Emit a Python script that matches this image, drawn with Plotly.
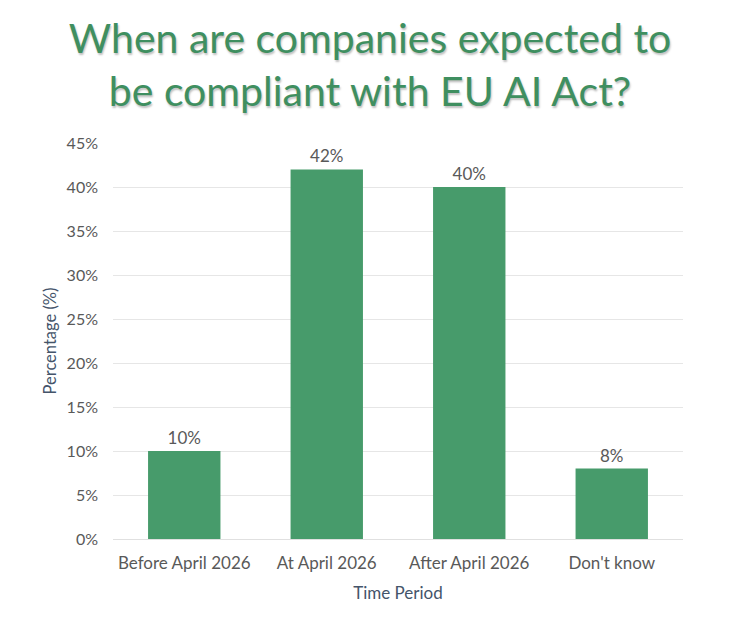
import plotly.graph_objects as go

categories = ["Before April 2026", "At April 2026", "After April 2026", "Don't know"]
percentages = [10, 42, 40, 8]
y_ticks = [0, 5, 10, 15, 20, 25, 30, 35, 40, 45]
y_tick_labels = [f"{v}%" for v in y_ticks]

FONT = "Lato, 'Open Sans', sans-serif"

fig = go.Figure(
    go.Bar(
        x=categories,
        y=percentages,
        text=[f"{v}%" for v in percentages],
        textposition="outside",
        cliponaxis=False,
        textfont=dict(family=FONT, size=17, color="#595959"),
        marker=dict(color="#479b6b", line=dict(width=0)),
        width=0.508,
    )
)

fig.update_layout(
    width=740,
    height=627,
    paper_bgcolor="white",
    plot_bgcolor="white",
    margin=dict(l=113, r=57, t=143, b=88),
    showlegend=False,
    font=dict(family=FONT, color="#595959"),
    title=dict(
        text="When are companies expected to<br>be compliant with EU AI Act?",
        x=0.5,
        xanchor="center",
        y=0.916,
        yref="container",
        yanchor="middle",
        font=dict(family=FONT, size=41, color="#3f8f60", shadow="1px 2px 2px rgba(0,0,0,0.25)"),
    ),
    xaxis=dict(
        showgrid=False,
        showline=False,
        ticks="",
        ticklabelstandoff=12,
        tickfont=dict(family=FONT, size=17, color="#595959"),
        title=dict(text="Time Period", font=dict(family=FONT, size=17, color="#44546a"), standoff=15),
    ),
    yaxis=dict(
        range=[0, 45],
        tickvals=y_ticks,
        ticktext=y_tick_labels,
        showgrid=True,
        gridcolor="#e6e6e6",
        gridwidth=1,
        zeroline=True,
        zerolinecolor="#e0e0e0",
        zerolinewidth=1,
        showline=False,
        ticks="",
        ticklabelstandoff=14,
        tickfont=dict(family=FONT, size=16, color="#595959"),
        title=dict(text="Percentage (%)", font=dict(family=FONT, size=16.5, color="#44546a"), standoff=5),
    ),
)

fig.write_html(
    "out.html",
    config={"displayModeBar": False},
    post_script="document.body.style.margin='0';document.body.style.overflow='hidden';",
)
